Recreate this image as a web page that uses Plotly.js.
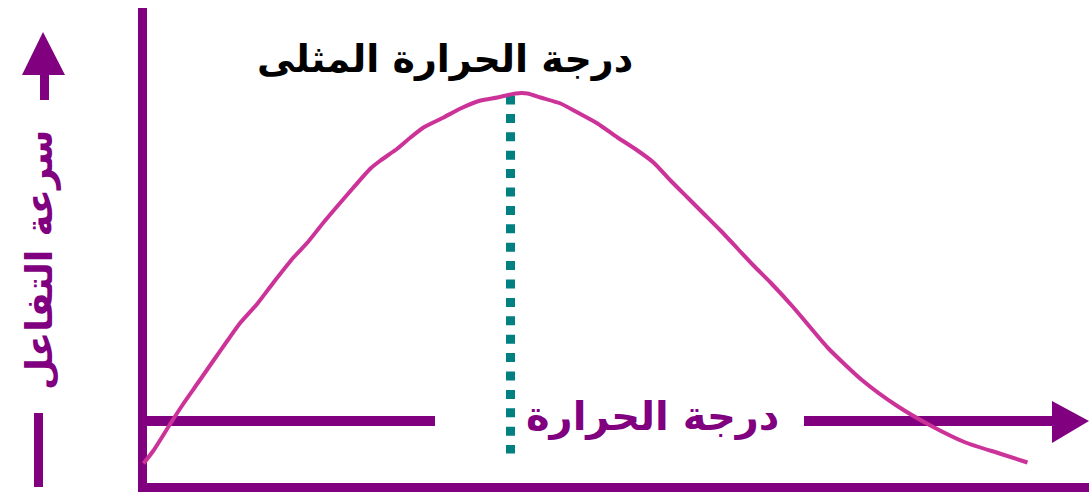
<!DOCTYPE html>
<html>
<head>
<meta charset="utf-8">
<script src="https://cdn.plot.ly/plotly-3.0.1.min.js"></script>
<style>
html,body{margin:0;padding:0;background:#fff;}
#chart{width:1089px;height:492px;}
</style>
</head>
<body>
<div id="chart"></div>
<script>
// Data (temperature units from the vertical axis, rate units from the bottom axis)
var temperature = [1, 11, 28, 41, 55, 71, 85, 98, 115, 131, 151, 165, 181, 198, 211, 228, 238, 255, 268, 281, 301, 318, 338, 355, 373, 385, 398, 418, 435, 455, 475, 495, 511, 528, 545, 561, 578, 595, 611, 628, 651, 685, 720, 754, 788, 823, 857, 885];
var rate = [24, 37, 64, 84, 104, 127, 147, 165, 184, 205, 230, 245, 265, 285, 300, 319, 327, 339, 350, 360, 370, 379, 387, 390, 394, 394, 390, 384, 375, 364, 350, 337, 325, 307, 290, 274, 257, 239, 222, 205, 180, 140, 107, 82, 62, 45, 34, 25];
var optimumTemperature = [368, 368];
var optimumRange = [392, 34];

var titleText = 'درجة الحرارة المثلى';
var xLabel = 'درجة الحرارة';
var yLabel = 'سرعة التفاعل';

var W = 1089, H = 492;
function px(x){ return x / W; }
function py(y){ return 1 - y / H; }
var PURPLE = '#800080';

function rect(x0, y0, x1, y1){
  return {type:'rect', xref:'paper', yref:'paper', x0:px(x0), x1:px(x1), y0:py(y1), y1:py(y0),
          fillcolor:PURPLE, line:{width:0}, layer:'below'};
}
function tri(pts){
  var d = 'M ' + pts.map(function(p){ return px(p[0]) + ',' + py(p[1]); }).join(' L ') + ' Z';
  return {type:'path', xref:'paper', yref:'paper', path:d, fillcolor:PURPLE, line:{width:0}, layer:'below'};
}

var traces = [
  {
    x: optimumTemperature, y: optimumRange, mode:'lines',
    line:{color:'#008080', width:9, dash:'9px,9.4px'}, hoverinfo:'skip'
  },
  {
    x: temperature, y: rate, mode:'lines',
    line:{color:'#cc3399', width:4, shape:'spline', smoothing:0.6}, hoverinfo:'skip'
  }
];

var layout = {
  width: W, height: H,
  margin:{l:0, r:0, t:0, b:0},
  paper_bgcolor:'#ffffff', plot_bgcolor:'rgba(0,0,0,0)',
  showlegend:false,
  xaxis:{range:[-142.5, 946.5], visible:false, fixedrange:true},
  yaxis:{range:[-4.5, 487.5], visible:false, fixedrange:true},
  shapes:[
    rect(138, 8, 147, 492),
    rect(138, 483, 1089, 492),
    rect(147, 416, 435, 426),
    rect(804, 416, 1053, 426),
    tri([[1052,401],[1089,421],[1052,443]]),
    tri([[43,32],[65,75],[22,75]]),
    rect(40, 74, 49, 100),
    rect(34, 413, 43, 487)
  ],
  annotations:[
    {text:titleText, xref:'paper', yref:'paper', x:px(445), y:py(59), showarrow:false,
     xanchor:'center', yanchor:'middle', font:{family:'DejaVu Sans', size:38, color:'#000000', weight:'bold'}},
    {text:xLabel, xref:'paper', yref:'paper', x:px(652), y:py(416), showarrow:false,
     xanchor:'center', yanchor:'middle', bgcolor:'rgba(0,0,0,0)',
     font:{family:'DejaVu Sans', size:40, color:PURPLE, weight:'bold'}},
    {text:yLabel, xref:'paper', yref:'paper', x:px(39), y:py(260), showarrow:false, textangle:-90,
     xanchor:'center', yanchor:'middle', font:{family:'DejaVu Sans', size:37, color:PURPLE, weight:'bold'}}
  ]
};

Plotly.newPlot('chart', traces, layout, {staticPlot:true, displayModeBar:false});
</script>
</body>
</html>
